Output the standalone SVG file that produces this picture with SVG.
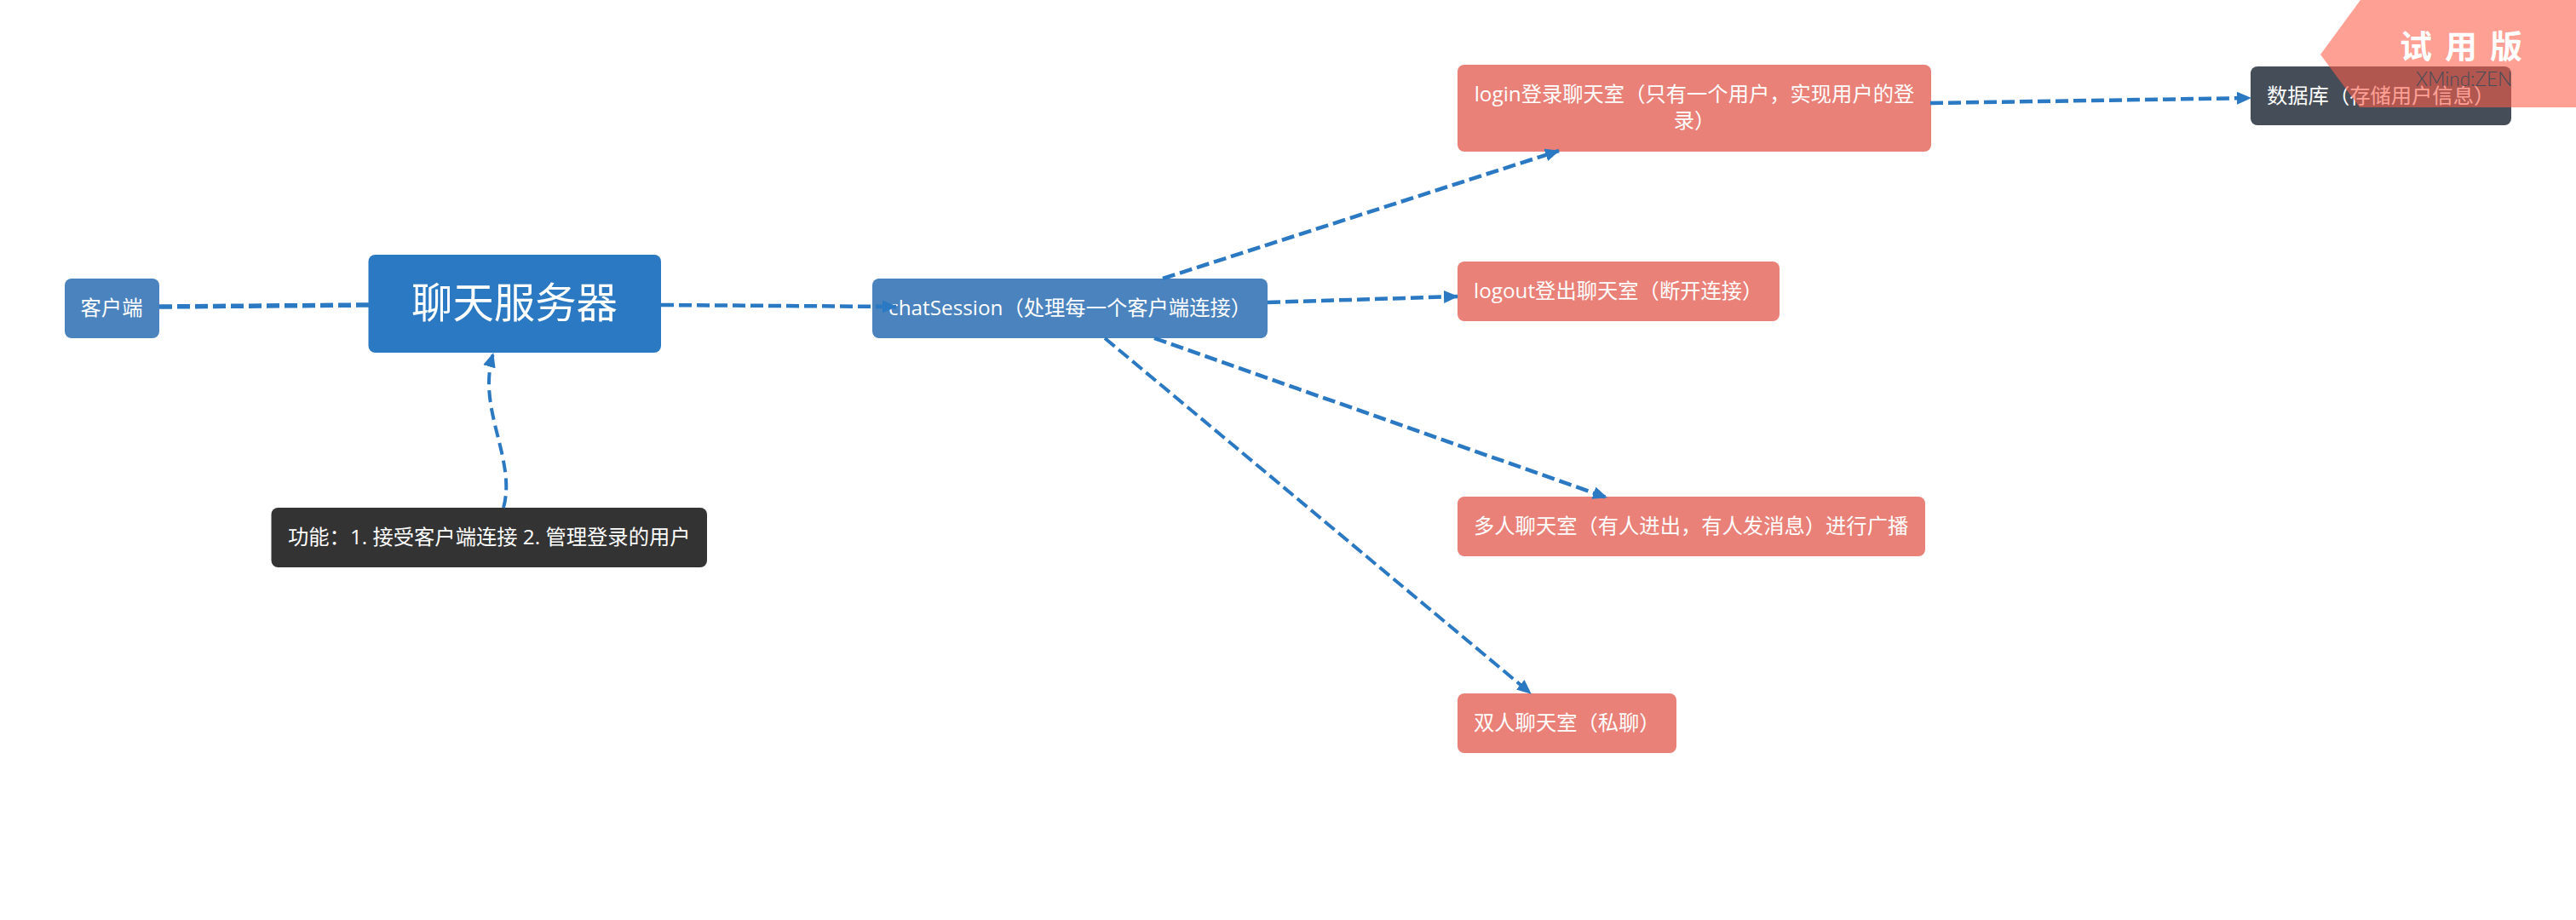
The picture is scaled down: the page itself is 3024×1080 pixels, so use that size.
<svg xmlns="http://www.w3.org/2000/svg" width="3024" height="1080" viewBox="0 0 3024 1080">
<style>
text{font-family:"Open Sans","Noto Sans CJK SC",sans-serif;fill:#fff;font-size:24.300px}
.blue{fill:#4a83bd}.root{fill:#2b79c2}.pink{fill:#e98178}.dark{fill:#333}.db{fill:#454d58}
.c{fill:none;stroke:#2b79c2;stroke-width:4.500;stroke-dasharray:15 6}
.h{fill:#2b79c2}
</style>
<defs><marker id="a" markerUnits="userSpaceOnUse" markerWidth="17" markerHeight="15" refX="16" refY="7.500" orient="auto"><path d="M0 0L17 7.500L0 15Z" class="h"/></marker></defs>
<rect width="3024" height="1080" fill="#fff"/>
<g id="node-client"><rect class="blue" x="76" y="327" width="111" height="70" rx="8"/><text x="131" y="370" text-anchor="middle">客户端</text></g>
<g id="node-root"><rect class="root" x="432.500" y="299" width="343.500" height="115" rx="8"/><text x="604" y="373" text-anchor="middle" style="font-size:48.400px">聊天服务器</text></g>
<g id="node-note"><rect class="dark" x="318.500" y="596" width="511.500" height="70" rx="8"/><text x="338" y="639">功能：1. 接受客户端连接 2. 管理登录的用户</text></g>
<g id="node-chat"><rect class="blue" x="1024" y="327" width="464" height="70" rx="8"/><text x="1043" y="370">chatSession（处理每一个客户端连接）</text></g>
<g id="node-login"><rect class="pink" x="1711" y="76" width="556" height="102" rx="8"/><text x="1989" y="119" text-anchor="middle">login登录聊天室（只有一个用户，实现用户的登</text><text x="1989" y="150" text-anchor="middle">录）</text></g>
<g id="node-logout"><rect class="pink" x="1711" y="307" width="378" height="70" rx="8"/><text x="1730" y="350">logout登出聊天室（断开连接）</text></g>
<g id="node-multi"><rect class="pink" x="1711" y="583" width="549" height="70" rx="8"/><text x="1730" y="626">多人聊天室（有人进出，有人发消息）进行广播</text></g>
<g id="node-pair"><rect class="pink" x="1711" y="814" width="257" height="70" rx="8"/><text x="1730" y="857">双人聊天室（私聊）</text></g>
<g id="node-db"><rect class="db" x="2642" y="78" width="306" height="69" rx="8"/><text x="2661" y="121">数据库（存储用户信息）</text></g>
<g id="connectors">
<path class="c" style="stroke-width:5.500" d="M187 360L433 358"/>
<path class="c" marker-end="url(#a)" d="M776 358L1052 360"/>
<path class="c" marker-end="url(#a)" style="stroke-width:4;stroke-dasharray:14 7" d="M591 596C604 550 574 500 574 450C574 436 576 425 579 415"/>
<path class="c" marker-end="url(#a)" d="M1365 327L1830 177"/>
<path class="c" marker-end="url(#a)" d="M1488 355L1711 348"/>
<path class="c" marker-end="url(#a)" d="M1355 397L1886 584"/>
<path class="c" marker-end="url(#a)" style="stroke-width:4" d="M1297 397L1797 814"/>
<path class="c" marker-end="url(#a)" d="M2266 121L2642 115"/>
</g>
<g id="watermark"><polygon points="2771,0 3024,0 3024,126 2770,126 2724,64" fill="#ff5e4b" fill-opacity=".59"/>
<text x="2817" y="68" style="font-size:38px;font-weight:700;letter-spacing:15px">试用版</text>
<text x="2836" y="101" style="font-family:Lato,'Open Sans',sans-serif;font-size:22.500px;font-weight:300;fill:#454d58">XMind:ZEN</text></g>
</svg>
